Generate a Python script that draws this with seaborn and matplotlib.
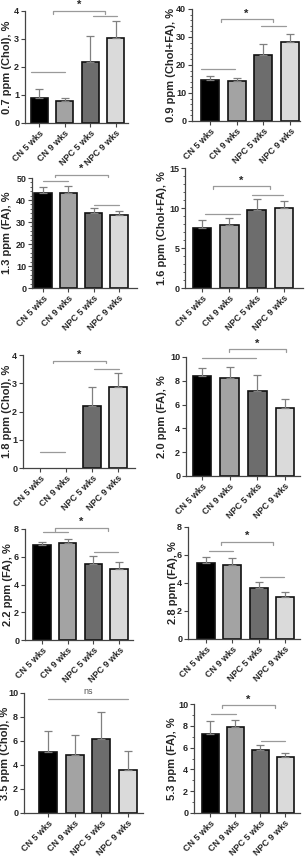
import matplotlib
matplotlib.use("Agg")
import matplotlib.pyplot as plt
import seaborn as sns

# groups and bar colours
groups = ["CN 5 wks", "CN 9 wks", "NPC 5 wks", "NPC 9 wks"]
colors = ["#000000", "#a3a3a3", "#6d6d6d", "#dadada"]

# mean and SD per peak (%)
p07_mean = [0.90, 0.78, 2.19, 3.02]
p07_sd = [0.33, 0.10, 0.93, 0.63]
p09_mean = [14.8, 14.4, 23.4, 28.1]
p09_sd = [1.4, 0.9, 4.0, 3.0]
p13_mean = [43.2, 43.4, 34.0, 33.0]
p13_sd = [2.7, 2.9, 2.4, 1.8]
p16_mean = [7.50, 7.83, 9.75, 10.05]
p16_sd = [1.05, 0.92, 1.35, 0.80]
p18_mean = [0.0, 0.0, 2.18, 2.88]
p18_sd = [0.0, 0.0, 0.68, 0.48]
p20_mean = [8.41, 8.27, 7.13, 5.72]
p20_sd = [0.64, 0.92, 1.38, 0.75]
p22_mean = [6.85, 7.02, 5.50, 5.10]
p22_sd = [0.22, 0.27, 0.55, 0.50]
p28_mean = [5.42, 5.30, 3.63, 3.03]
p28_sd = [0.47, 0.52, 0.45, 0.33]
p35_mean = [5.06, 4.80, 6.17, 3.60]
p35_sd = [1.74, 1.72, 2.23, 1.53]
p53_mean = [7.26, 7.92, 5.76, 5.15]
p53_sd = [1.22, 0.62, 0.44, 0.34]

W, H = 306, 859

sns.set_style("ticks")
plt.rcParams["font.family"] = ["Liberation Sans", "DejaVu Sans"]
plt.rcParams["font.weight"] = "bold"
plt.rcParams["axes.labelweight"] = "bold"

fig = plt.figure(figsize=(W / 100, H / 100), dpi=100)

LINE_C = "#9a9a9a"
AX_C = "#444444"


def draw(box, label_x, mean, sd, ylabel, ymax, ystep, xlim, minor=None,
         lines=(), brackets=()):
    l, t, r, b = box
    ax = fig.add_axes([l / W, 1 - b / H, (r - l) / W, (b - t) / H])
    sns.barplot(x=groups, y=mean, hue=groups, palette=colors, saturation=1,
                width=0.68, edgecolor="#111111", linewidth=1.2,
                legend=False, ax=ax)
    # empty groups get no outline
    for p in ax.patches:
        if p.get_height() == 0:
            p.set_linewidth(0)
    for i, (m, s) in enumerate(zip(mean, sd)):
        if s > 0:
            ax.errorbar(i, m, yerr=[[0], [s]], color="#808080", lw=0.9,
                        capsize=3, capthick=0.9, zorder=1)
    ax.set_xlim(*xlim)
    ax.set_ylim(0, ymax)
    ax.set_yticks([ystep * k for k in range(int(round(ymax / ystep)) + 1)])
    ax.set_yticklabels([f"{v:g}" for v in ax.get_yticks()])
    if minor:
        ax.set_yticks([minor * k for k in range(int(round(ymax / minor)) + 1)],
                      minor=True)
        ax.tick_params(axis="y", which="minor", length=1.5, width=0.6,
                       color=AX_C)
    ax.set_xticks(range(4))
    ax.set_xticklabels(groups, rotation=45, ha="right",
                       rotation_mode="anchor", fontsize=6, fontweight="bold")
    ax.tick_params(axis="both", which="major", labelsize=6.5, length=3,
                   width=0.8, color=AX_C, pad=1.2)
    ax.set_ylabel(ylabel, fontsize=8, fontweight="bold")
    # ylabel right edge placed at the given pixel column
    ax.yaxis.set_label_coords((label_x - l) / (r - l), 0.5)
    ax.set_xlabel("")
    sns.despine(ax=ax)
    for sp in ("left", "bottom"):
        ax.spines[sp].set_color(AX_C)
        ax.spines[sp].set_linewidth(0.9)
    tick = ymax * 0.025
    for x0, x1, y in lines:
        ax.plot([x0, x1], [y, y], color=LINE_C, lw=0.9, clip_on=False)
    for x0, x1, y, lab in brackets:
        if lab == "*":
            ax.plot([x0, x0, x1, x1], [y - tick, y, y, y - tick],
                    color=LINE_C, lw=0.9, clip_on=False)
            ax.text((x0 + x1) / 2, y + ymax * 0.005, "*", ha="center",
                    va="bottom", fontsize=8, fontweight="bold")
        else:
            ax.plot([x0, x1], [y, y], color=LINE_C, lw=0.9, clip_on=False)
            ax.text((x0 + x1) / 2, y + ymax * 0.02, lab, ha="center",
                    va="bottom", fontsize=6.5, fontweight="normal",
                    color="#555555")
    return ax


draw((25, 11, 128, 123), 12, p07_mean, p07_sd, "0.7 ppm (Chol), %", 4, 1,
     (-0.57, 3.49),
     lines=[(-0.35, 1.0, 1.83), (2.1, 3.05, 3.83)],
     brackets=[(0.55, 2.6, 4.01, "*")])
draw((192, 9, 300, 121), 176.5, p09_mean, p09_sd, "0.9 ppm (Chol+FA), %",
     40, 10, (-0.67, 3.37), minor=2,
     lines=[(-0.35, 0.95, 18.6), (1.9, 2.85, 33.8)],
     brackets=[(0.4, 2.35, 36.4, "*")])
draw((32, 178, 137, 288), 12, p13_mean, p13_sd, "1.3 ppm (FA), %", 50, 10,
     (-0.43, 3.71), minor=2,
     lines=[(0.0, 1.0, 48.8), (2.0, 3.0, 37.6)],
     brackets=[(0.47, 2.57, 51.5, "*")])
draw((185, 168, 303, 288), 167, p16_mean, p16_sd, "1.6 ppm (Chol+FA), %",
     15, 5, (-0.62, 3.70), minor=1,
     lines=[(0.1, 1.4, 9.3), (1.85, 2.95, 11.6)],
     brackets=[(0.4, 2.5, 12.75, "*")])
draw((23, 355, 135, 468), 12, p18_mean, p18_sd, "1.8 ppm (Chol), %", 4, 1,
     (-0.65, 3.65),
     lines=[(0.0, 0.96, 0.55), (2.08, 3.04, 3.49)],
     brackets=[(0.5, 2.54, 3.8, "*")])
draw((186, 357, 300, 476), 167, p20_mean, p20_sd, "2.0 ppm (FA), %", 10, 2,
     (-0.58, 3.54),
     lines=[(0.0, 1.95, 9.94)],
     brackets=[(0.97, 3.03, 10.64, "*")])
draw((25, 529, 133, 640), 13.5, p22_mean, p22_sd, "2.2 ppm (FA), %", 8, 2,
     (-0.66, 3.54),
     lines=[(0.04, 1.0, 7.77), (2.02, 2.96, 6.33)],
     brackets=[(0.5, 2.57, 8.08, "*")])
draw((188, 527, 300, 639), 178, p28_mean, p28_sd, "2.8 ppm (FA), %", 8, 2,
     (-0.68, 3.57),
     lines=[(0.1, 1.03, 6.3), (2.05, 2.97, 4.44)],
     brackets=[(0.57, 2.55, 6.94, "*")])
draw((24, 693, 143, 813), 10.5, p35_mean, p35_sd, "3.5 ppm (Chol), %", 10, 2,
     (-0.9, 3.56),
     brackets=[(0.0, 3.0, 9.53, "ns")])
draw((194, 704, 300, 813), 177, p53_mean, p53_sd, "5.3 ppm (FA), %", 10, 2,
     (-0.64, 3.6), minor=1,
     lines=[(0.04, 1.04, 9.05), (2.04, 3.0, 6.65)],
     brackets=[(0.48, 2.6, 9.9, "*")])

fig.savefig("out.png", dpi=100)
